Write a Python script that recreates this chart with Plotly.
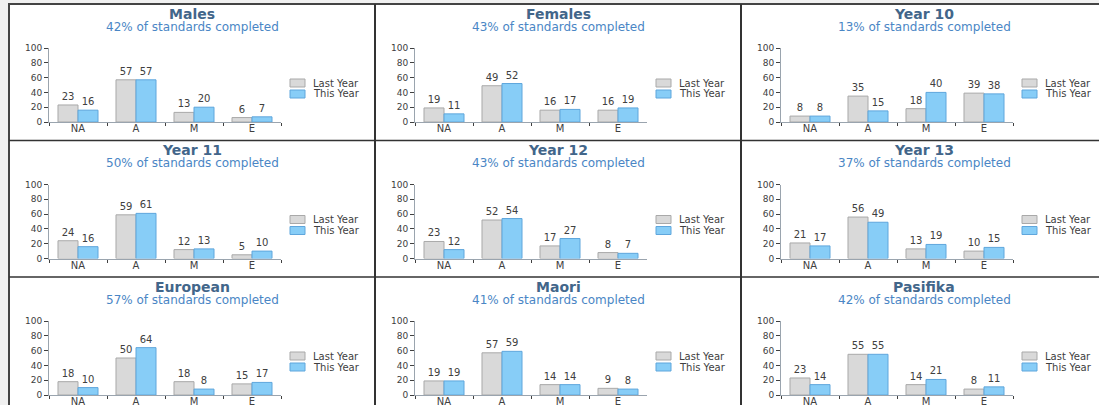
import plotly.graph_objects as go

W, H = 1099, 405

categories = ["NA", "A", "M", "E"]
series_names = ["Last Year", "This Year"]
panel_titles = ["Males", "Females", "Year 10",
                "Year 11", "Year 12", "Year 13",
                "European", "Maori", "Pasifika"]
completed_pct = [42, 43, 13, 50, 43, 37, 57, 41, 42]

last_year = [
    [23, 57, 13, 6],
    [19, 49, 16, 16],
    [8, 35, 18, 39],
    [24, 59, 12, 5],
    [23, 52, 17, 8],
    [21, 56, 13, 10],
    [18, 50, 18, 15],
    [19, 57, 14, 9],
    [23, 55, 14, 8],
]
this_year = [
    [16, 57, 20, 7],
    [11, 52, 17, 19],
    [8, 15, 40, 38],
    [16, 61, 13, 10],
    [12, 54, 27, 7],
    [17, 49, 19, 15],
    [10, 64, 8, 17],
    [19, 59, 14, 8],
    [14, 55, 21, 11],
]

FILL = ["#d9d9d9", "#87cdf7"]
EDGE = ["#a9a9a9", "#5fa6dc"]
FONT = "DejaVu Sans"

COL_X = [9, 375, 741]
ROW_Y = [4, 140.5, 277]


def fx(px):
    return px / W


def fy(py):
    return 1 - py / H


fig = go.Figure()
annotations = []
shapes = []

for i, title in enumerate(panel_titles):
    r, c = divmod(i, 3)
    X0, Y0 = COL_X[c], ROW_Y[r]
    n = i + 1
    xa = "x" if n == 1 else f"x{n}"
    ya = "y" if n == 1 else f"y{n}"
    for s, vals in enumerate([last_year[i], this_year[i]]):
        fig.add_trace(go.Bar(
            x=categories, y=vals, name=series_names[s],
            xaxis=xa, yaxis=ya, showlegend=False,
            marker=dict(color=FILL[s], line=dict(color=EDGE[s], width=1)),
            text=vals, textposition="outside", cliponaxis=False,
            textfont=dict(family=FONT, size=10, color="#404040"),
            hoverinfo="skip",
        ))
    axkey = "" if n == 1 else str(n)
    fig.update_layout(**{
        f"xaxis{axkey}": dict(
            domain=[fx(X0 + 40), fx(X0 + 272)], anchor=ya,
            type="category", range=[-0.5, 3.5], automargin=False,
            showline=True, linecolor="#9aa4ae", linewidth=1,
            ticks="outside", tickson="boundaries", ticklen=3,
            ticklabelstandoff=-3,
            tickcolor="#404040", showgrid=False, zeroline=False,
            tickfont=dict(family=FONT, size=10, color="#404040"),
        ),
        f"yaxis{axkey}": dict(
            domain=[fy(Y0 + 118), fy(Y0 + 44)], anchor=xa,
            range=[0, 100], tickvals=[0, 20, 40, 60, 80, 100],
            automargin=False,
            showline=True, linecolor="#9aa4ae", linewidth=1,
            ticks="outside", ticklen=4, tickcolor="#404040",
            showgrid=False, zeroline=False,
            tickfont=dict(family=FONT, size=9, color="#404040"),
        ),
    })
    # titles
    annotations.append(dict(
        x=fx(X0 + 183), y=fy(Y0 + 10), xref="paper", yref="paper",
        text=f"<b>{title}</b>", showarrow=False, xanchor="center", yanchor="middle",
        font=dict(family=FONT, size=14, color="#42668a"),
    ))
    annotations.append(dict(
        x=fx(X0 + 183), y=fy(Y0 + 22.5), xref="paper", yref="paper",
        text=f"{completed_pct[i]}% of standards completed", showarrow=False,
        xanchor="center", yanchor="middle",
        font=dict(family=FONT, size=12, color="#4a86c5"),
    ))
    # legend (drawn manually)
    for s, name in enumerate(series_names):
        ly = Y0 + 75 + s * 11
        shapes.append(dict(
            type="rect", xref="paper", yref="paper",
            x0=fx(X0 + 281), x1=fx(X0 + 296), y0=fy(ly + 8), y1=fy(ly),
            fillcolor=FILL[s], line=dict(color=EDGE[s], width=1),
        ))
        annotations.append(dict(
            x=fx(X0 + 302), y=fy(ly + 4), xref="paper", yref="paper",
            text=name, showarrow=False, xanchor="left", yanchor="middle",
            font=dict(family=FONT, size=10, color="#404040"),
        ))

# white panel area and frame
shapes.insert(0, dict(
    type="rect", xref="paper", yref="paper", layer="below",
    x0=fx(9), x1=fx(1110), y0=fy(420), y1=fy(4),
    fillcolor="white", line=dict(color="#444444", width=2),
))
for vx in [375, 741]:
    shapes.append(dict(type="line", xref="paper", yref="paper",
                       x0=fx(vx), x1=fx(vx), y0=fy(4), y1=fy(420),
                       line=dict(color="#333333", width=2)))
for hy in [140.5, 277]:
    shapes.append(dict(type="line", xref="paper", yref="paper",
                       x0=fx(9), x1=fx(1110), y0=fy(hy), y1=fy(hy),
                       line=dict(color="#333333", width=1.5)))

fig.update_layout(
    width=W, height=H,
    margin=dict(l=0, r=0, t=0, b=0, autoexpand=False),
    paper_bgcolor="#f0f0f0", plot_bgcolor="rgba(0,0,0,0)",
    barmode="group", bargap=0.31, bargroupgap=0,
    showlegend=False,
    annotations=annotations, shapes=shapes,
)

fig.write_html("out.html", config={"displayModeBar": False})
